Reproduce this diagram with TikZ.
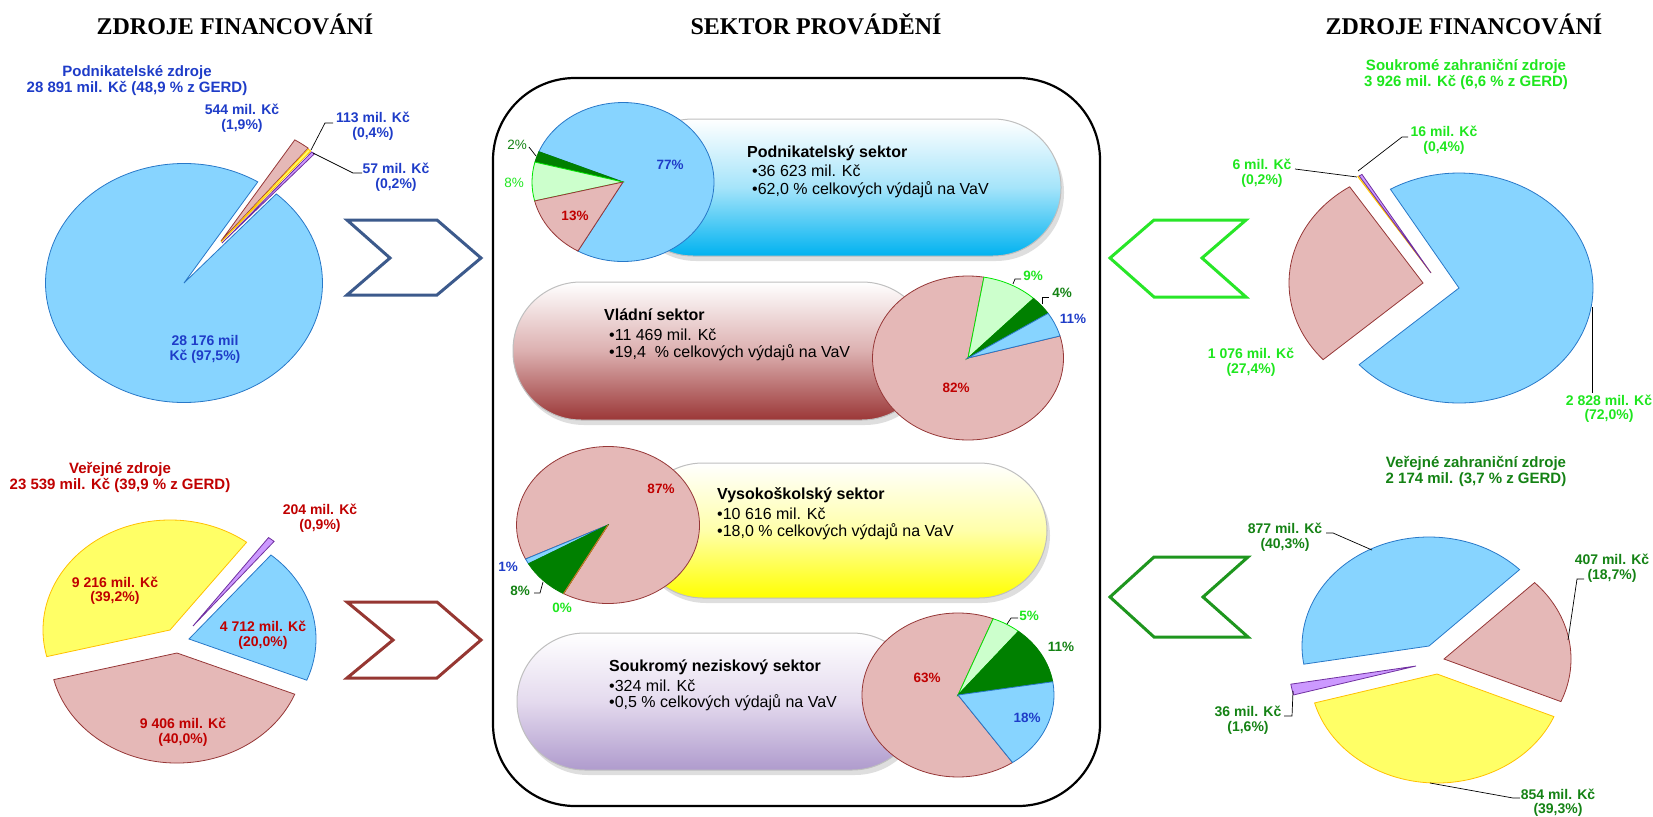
\documentclass[tikz,border=0pt]{standalone}
\usepackage{fontspec}
\setmainfont{Liberation Sans}
\newfontfamily\timesf{Liberation Serif}
\definecolor{cblue}{RGB}{135,212,255}
\definecolor{cbluel}{RGB}{40,120,200}
\definecolor{cpink}{RGB}{229,184,183}
\definecolor{cpinkl}{RGB}{150,55,55}
\definecolor{cyel}{RGB}{255,255,102}
\definecolor{cyell}{RGB}{255,192,0}
\definecolor{cpur}{RGB}{204,153,255}
\definecolor{cpurl}{RGB}{112,48,160}
\definecolor{cltg}{RGB}{204,255,204}
\definecolor{cltgl}{RGB}{0,230,0}
\definecolor{cdkg}{RGB}{0,128,0}
\definecolor{tblue}{RGB}{30,60,200}
\definecolor{tred}{RGB}{192,0,0}
\definecolor{tlg}{RGB}{30,230,30}
\definecolor{tdg}{RGB}{20,130,20}
\definecolor{chb}{RGB}{60,90,140}
\definecolor{chr}{RGB}{150,55,50}
\definecolor{chg}{RGB}{40,230,40}
\definecolor{chdg}{RGB}{30,150,30}
\definecolor{zeroline}{RGB}{210,120,40}
\newcommand\labf{\fontsize{14}{14.5}\selectfont\bfseries}
\newcommand\headf{\fontsize{15}{16}\selectfont\bfseries}
\newcommand\pctf{\fontsize{13.5}{14}\selectfont}
\newcommand\pillf{\fontsize{16}{18}\selectfont}
\newcommand\titf{\timesf\bfseries\fontsize{24}{26}\selectfont}
% slice: cx cy rx ry t1 t2 style (screen angles, counter-clockwise)
\newcommand\pslice[7]{\draw[#7] (#1,#2) -- ++({cos(#5)*#3},{-sin(#5)*#4}) arc[start angle={-#5}, end angle={-#6}, x radius=#3, y radius=#4] -- cycle;}
\newcommand\pill[6]{%
  \fill[black, opacity=0.13, rounded corners=68pt] ($(#1)+(3,5)$) rectangle ($(#2)+(3,5)$);
  \shade[top color=white, bottom color=#4, middle color=#3, rounded corners=68pt] (#1) rectangle (#2);
  \draw[draw=black!25, line width=1pt, rounded corners=68pt] (#1) rectangle (#2);}
\usetikzlibrary{calc}
\begin{document}
\begin{tikzpicture}[x=1pt,y=-1pt,
  lead/.style={draw=black, line width=0.7pt},
  plab/.style={font=\labf, align=center, inner sep=0pt},
  phead/.style={font=\headf, align=center, inner sep=0pt},
  pc/.style={font=\pctf\bfseries, inner sep=0pt},
  pcn/.style={font=\pctf, inner sep=0pt},
  ttl/.style={font=\titf, anchor=base, inner sep=0pt},
  ptitle/.style={font=\pillf\bfseries, anchor=base west, inner sep=0pt},
  pline/.style={font=\pillf, anchor=base west, inner sep=0pt},
  chev/.style={line width=3pt, line join=miter, fill=white},
  sb/.style={fill=cblue, draw=cbluel, line width=0.8pt},
  sp/.style={fill=cpink, draw=cpinkl, line width=0.8pt},
  sy/.style={fill=cyel, draw=cyell, line width=0.8pt},
  su/.style={fill=cpur, draw=cpurl, line width=0.8pt},
  sl/.style={fill=cltg, draw=cltgl, line width=0.8pt},
  sd/.style={fill=cdkg, draw=cdkg, line width=0.8pt}
]
\useasboundingbox (0,0) rectangle (1653,816);

% titles
\node[ttl] (t1) at (235,35) {ZDROJE FINANCOVÁNÍ};
\node[ttl] (t2) at (816,35) {SEKTOR PROVÁDĚNÍ};
\node[ttl] (t3) at (1464,35) {ZDROJE FINANCOVÁNÍ};

% central frame
\draw[line width=2.2pt, rounded corners=82pt] (493,78) rectangle (1100,806);

% pills
\coordinate (p1a) at (625,119); \coordinate (p1b) at (1061,256);
\coordinate (p2a) at (513,282); \coordinate (p2b) at (930,420);
\coordinate (p3a) at (635,463); \coordinate (p3b) at (1047,598);
\coordinate (p4a) at (517,633); \coordinate (p4b) at (920,770);
\pill{p1a}{p1b}{{rgb,255:red,165;green,228;blue,250}}{{rgb,255:red,0;green,178;blue,240}}{}{}
\pill{p2a}{p2b}{{rgb,255:red,220;green,176;blue,176}}{{rgb,255:red,155;green,55;blue,55}}{}{}
\pill{p3a}{p3b}{{rgb,255:red,255;green,255;blue,170}}{{rgb,255:red,255;green,255;blue,0}}{}{}
\pill{p4a}{p4b}{{rgb,255:red,228;green,218;blue,238}}{{rgb,255:red,175;green,155;blue,205}}{}{}

% pill texts
\node[ptitle] (s1t) at (747,157) {Podnikatelský sektor};
\node[pline] (s1a) at (752,176) {•36 623 mil. Kč};
\node[pline] (s1b) at (752,194) {•62,0 \% celkových výdajů na VaV};
\node[ptitle] (s2t) at (604,320) {Vládní sektor};
\node[pline] (s2a) at (609,340) {•11 469 mil. Kč};
\node[pline] (s2b) at (609,357) {•19,4~~\% celkových výdajů na VaV};
\node[ptitle] (s3t) at (717,499) {Vysokoškolský sektor};
\node[pline] (s3a) at (717,519) {•10 616 mil. Kč};
\node[pline] (s3b) at (717,536) {•18,0 \% celkových výdajů na VaV};
\node[ptitle] (s4t) at (609,671) {Soukromý neziskový sektor};
\node[pline] (s4a) at (609,691) {•324 mil. Kč};
\node[pline] (s4b) at (609,707) {•0,5 \% celkových výdajů na VaV};

% central pie 1
\pslice{623}{182}{91}{79.5}{240.3}{517.6}{sb}
\pslice{623}{182}{91}{79.5}{157.6}{165.5}{sd}
\pslice{623}{182}{91}{79.5}{165.5}{193.8}{sl}
\pslice{623}{182}{91}{79.5}{193.8}{240.3}{sp}
\node[pc, text=tblue] (q1a) at (670,165) {77\%};
\node[pc, text=tred] (q1b) at (575,216) {13\%};
\node[pcn, text=tlg] (q1c) at (514,183) {8\%};
\node[pcn, text=tdg] (q1d) at (517,145) {2\%};
\draw[lead] (q1d.east) ++(2,2) -- (536,156);

% central pie 2
\pslice{968}{358}{95.5}{82}{80.4}{375.6}{sp}
\pslice{968}{358}{95.5}{82}{46.6}{80.4}{sl}
\pslice{968}{358}{95.5}{82}{33}{46.6}{sd}
\pslice{968}{358}{95.5}{82}{15.6}{33}{sb}
\node[pc, text=tlg] (q2a) at (1033,276) {9\%};
\node[pc, text=tdg] (q2b) at (1062,293) {4\%};
\node[pc, text=tblue] (q2c) at (1073,319) {11\%};
\node[pc, text=tred] (q2d) at (956,388) {82\%};
\draw[lead] (1013,284) -- (1015,279) -- (1021,279);
\draw[lead] (1042,304) -- (1042,297) -- (1049,297);

% central pie 3
\pslice{608}{525}{91.5}{78.5}{240.9}{565.7}{sp}
\pslice{608}{525}{91.5}{78.5}{205.7}{209.6}{sb}
\pslice{608}{525}{91.5}{78.5}{209.6}{240.9}{sd}
\draw[zeroline, line width=1pt] (608,525) -- (563.5,593.6);
\node[pc, text=tred] (q3a) at (661,489) {87\%};
\node[pc, text=tblue] (q3b) at (508,567) {1\%};
\node[pc, text=tdg] (q3c) at (520,591) {8\%};
\node[pc, text=tlg] (q3d) at (562,608) {0\%};
\draw[lead] (534,593) -- (540,593) -- (543,582);

% central pie 4
\pslice{958}{695}{96}{82}{68.5}{304.6}{sp}
\pslice{958}{695}{96}{82}{51}{68.5}{sl}
\pslice{958}{695}{96}{82}{9.3}{51}{sd}
\pslice{958}{695}{96}{82}{304.6}{369.3}{sb}
\node[pc, text=tlg] (q4a) at (1029,616) {5\%};
\node[pc, text=tdg] (q4b) at (1061,647) {11\%};
\node[pc, text=tblue] (q4c) at (1027,718) {18\%};
\node[pc, text=tred] (q4d) at (927,678) {63\%};
\draw[lead] (1007,624) -- (1011,618) -- (1018,618);

% chevrons
\draw[chev, draw=chb] (347,220) -- (437,220) -- (481,258) -- (437,295) -- (347,295) -- (390,258) -- cycle;
\draw[chev, draw=chr] (347,602) -- (437,602) -- (481,640) -- (437,678) -- (347,678) -- (393,640) -- cycle;
\draw[chev, draw=chg] (1110,258) -- (1154,220) -- (1246,220) -- (1202,258) -- (1246,297) -- (1154,297) -- cycle;
\draw[chev, draw=chdg] (1110,597) -- (1154,557) -- (1248,557) -- (1203,597) -- (1248,637) -- (1154,637) -- cycle;

% top-left pie (Podnikatelske zdroje)
\pslice{184}{283}{138.5}{119.5}{57.8}{408.2}{sb}
\pslice{221}{241}{138.5}{119.5}{51.0}{57.8}{sp}
\pslice{221}{242}{138.5}{119.5}{49.6}{51.0}{sy}
\pslice{222}{243}{138.5}{119.5}{48.2}{49.6}{su}
\node[phead, text=tblue] (h1) at (137,81) {Podnikatelské zdroje\\28 891 mil. Kč (48,9 \% z GERD)};
\node[plab, text=tblue] (l11) at (242,118) {544 mil. Kč\\(1,9\%)};
\node[plab, text=tblue] (l12) at (373,126) {113 mil. Kč\\(0,4\%)};
\node[plab, text=tblue] (l13) at (396,177) {57 mil. Kč\\(0,2\%)};
\node[plab, text=tblue] (l14) at (205,349.5) {28 176 mil\\Kč (97,5\%)};
\draw[lead] (333,123) -- (325,123) -- (311,150);
\draw[lead] (362,173) -- (353,173) -- (313,153);

% bottom-left pie (Verejne zdroje)
\pslice{170}{630}{127}{110}{52.9}{194}{sy}
\pslice{177}{653}{127}{110}{194}{338}{sp}
\pslice{189}{639}{127}{110}{338}{409.8}{sb}
\pslice{193}{626}{127}{110}{50.3}{53.5}{su}
\node[phead, text=tred] (h2) at (120,477) {Veřejné zdroje\\23 539 mil. Kč (39,9 \% z GERD)};
\node[plab, text=tred] (l21) at (320,518) {204 mil. Kč\\(0,9\%)};
\node[plab, text=tred] (l22) at (115,590.5) {9 216 mil. Kč\\(39,2\%)};
\node[plab, text=tred] (l23) at (263,635) {4 712 mil. Kč\\(20,0\%)};
\node[plab, text=tred] (l24) at (183,732) {9 406 mil. Kč\\(40,0\%)};

% top-right pie (Soukrome zahranicni zdroje)
\pslice{1459}{288}{134}{115}{221.8}{480.8}{sb}
\pslice{1423}{283}{134}{115}{123.2}{221.8}{sp}
\pslice{1431}{273}{134}{115}{122.4}{123.1}{sy}
\pslice{1431}{273}{134}{115}{121.0}{122.4}{su}
\node[phead, text=tlg] (h3) at (1466,74.5) {Soukromé zahraniční zdroje\\3 926 mil. Kč (6,6 \% z GERD)};
\node[plab, text=tlg] (l31) at (1444,140) {16 mil. Kč\\(0,4\%)};
\node[plab, text=tlg] (l32) at (1262,173) {6 mil. Kč\\(0,2\%)};
\node[plab, text=tlg] (l33) at (1251,362) {1 076 mil. Kč\\(27,4\%)};
\node[plab, text=tlg] (l34) at (1609,408.5) {2 828 mil. Kč\\(72,0\%)};
\draw[lead] (1408,137) -- (1402,137) -- (1358,171);
\draw[lead] (1295,169) -- (1357,177);
\draw[lead] (1592,307) -- (1592,393);

% bottom-right pie (Verejne zahranicni zdroje)
\pslice{1429}{646}{127}{109}{44.5}{189.6}{sb}
\pslice{1416}{666}{127}{109}{189.6}{195.4}{su}
\pslice{1437}{674}{127}{109}{195.4}{337}{sy}
\pslice{1444}{659}{127}{109}{337}{404.5}{sp}
\node[phead, text=tdg] (h4) at (1476,471) {Veřejné zahraniční zdroje\\2 174 mil. (3,7 \% z GERD)};
\node[plab, text=tdg] (l41) at (1285,537) {877 mil. Kč\\(40,3\%)};
\node[plab, text=tdg] (l42) at (1612,568) {407 mil. Kč\\(18,7\%)};
\node[plab, text=tdg] (l43) at (1248,720) {36 mil. Kč\\(1,6\%)};
\node[plab, text=tdg] (l44) at (1558,802.5) {854 mil. Kč\\(39,3\%)};
\draw[lead] (1326,533) -- (1333,533) -- (1372,550);
\draw[lead] (1584,579) -- (1577,579) -- (1568,640);
\draw[lead] (1284,716) -- (1292,716) -- (1293,691);
\draw[lead] (1520,798) -- (1513,798) -- (1430,783);
\end{tikzpicture}
\end{document}
